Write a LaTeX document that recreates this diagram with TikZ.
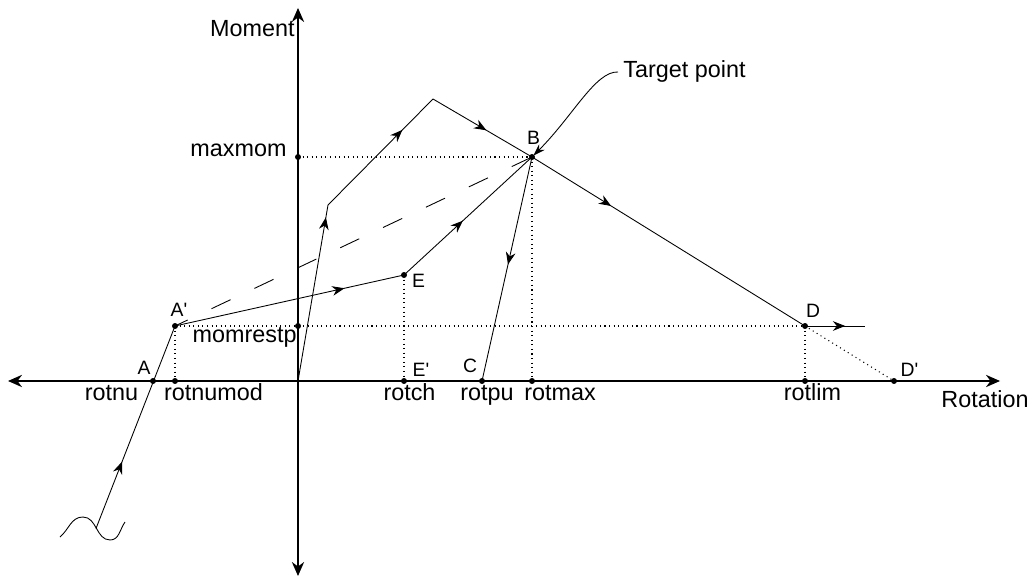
\documentclass[tikz,border=0pt]{standalone}
\usepackage{fontspec}
\setmainfont{Liberation Sans}
\usepackage{tikz}
\usetikzlibrary{arrows.meta,decorations.markings}

\begin{document}
\begin{tikzpicture}[line width=0.5pt,
  midarrow/.style={postaction={decorate},decoration={markings,mark=at position #1 with {\arrow{Stealth[length=7pt,width=5.5pt]}}}},
  axis/.style={{Stealth[length=8pt,width=7pt]}-{Stealth[length=8pt,width=7pt]},line width=0.8pt},
  guide/.style={dotted,line width=0.6pt},
  big/.style={inner sep=0pt,font=\fontsize{13.3}{15}\selectfont},
  small/.style={inner sep=0pt,font=\fontsize{11}{13}\selectfont}]
\useasboundingbox (-5.96,-4.02) rectangle (14.72,7.62);
\coordinate (xl) at (-5.8,0);
\coordinate (xr) at (14.04,0);
\coordinate (yt) at (0,7.46);
\coordinate (yb) at (0,-3.9);
\coordinate (O) at (0,0);
\coordinate (A) at (-2.9,0);
\coordinate (Ap) at (-2.46,1.1);
\coordinate (Ax) at (-2.46,0);
\coordinate (Ym) at (0,1.1);
\coordinate (E) at (2.12,2.12);
\coordinate (Ep) at (2.12,0);
\coordinate (C) at (3.68,0);
\coordinate (B) at (4.68,4.48);
\coordinate (Bx) at (4.68,0);
\coordinate (By) at (0,4.48);
\coordinate (D) at (10.14,1.1);
\coordinate (Dx) at (10.14,0);
\coordinate (Dp) at (11.92,0);
\coordinate (Dend) at (11.34,1.1);
\coordinate (K) at (0.6,3.52);
\coordinate (P) at (2.7,5.64);
\coordinate (W0) at (-4.04,-2.95);
\coordinate (W1) at (-4.76,-3.12);
\coordinate (W2) at (-4.3,-2.72);
\coordinate (W3) at (-3.76,-3.18);
\coordinate (W4) at (-3.46,-2.82);
\coordinate (T) at (6.4,6.18);

\draw[axis] (xl) -- (xr);
\draw[axis] (yb) -- (yt);

\draw[guide] (Ap) -- (D);
\draw[guide] (By) -- (B);
\draw[guide] (Ap) -- (Ax);
\draw[guide] (E) -- (Ep);
\draw[guide] (B) -- (Bx);
\draw[guide] (D) -- (Dx);
\draw[guide] (D) -- (Dp);
\draw[dash pattern=on 12pt off 15pt,dash phase=4pt] (Ap) -- (B);

\draw (W1) to[out=40,in=180] (W2) to[out=0,in=180] (W3) to[out=0,in=235] (W4);
\draw[midarrow=0.33] (W0) -- (Ap);
\draw[midarrow=0.74] (Ap) -- (E);
\draw[midarrow=0.46] (E) -- (B);
\draw[midarrow=0.48] (B) -- (C);
\draw[midarrow=0.93] (O) -- (K);
\draw[midarrow=0.71] (K) -- (P);
\draw[midarrow=0.54] (P) -- (B);
\draw[midarrow=0.29] (B) -- (D);
\draw[midarrow=0.67] (D) -- (Dend);

\foreach \p in {A,Ap,Ax,Ym,E,Ep,C,B,Bx,By,D,Dx,Dp}
  \fill (\p) circle (1.7pt);

\node[big,anchor=base east] (lmoment) at (-0.06,6.88) {Moment};
\node[big,anchor=base] (lrotation) at (13.74,-0.54) {Rotation};
\node[big,anchor=base east] (lmaxmom) at (-0.22,4.48) {maxmom};
\node[big,anchor=base east] (lmomrestp) at (-0.02,0.76) {momrestp};
\node[big,anchor=base] (lrotnu) at (-3.73,-0.4) {rotnu};
\node[big,anchor=base] (lrotnumod) at (-1.69,-0.4) {rotnumod};
\node[big,anchor=base] (lrotch) at (2.23,-0.4) {rotch};
\node[big,anchor=base] (lrotpu) at (3.78,-0.4) {rotpu};
\node[big,anchor=base] (lrotmax) at (5.24,-0.4) {rotmax};
\node[big,anchor=base] (lrotlim) at (10.29,-0.4) {rotlim};
\node[big,anchor=base west] (ltarget) at (6.5,6.06) {Target point};

\node[small,anchor=base] (lA) at (-3.08,0.12) {A};
\node[small,anchor=base] (lAp) at (-2.38,1.28) {A\textquotesingle};
\node[small,anchor=base] (lE) at (2.41,1.86) {E};
\node[small,anchor=base] (lEp) at (2.46,0.08) {E\textquotesingle};
\node[small,anchor=base] (lC) at (3.44,0.16) {C};
\node[small,anchor=base] (lB) at (4.71,4.72) {B};
\node[small,anchor=base] (lD) at (10.3,1.26) {D};
\node[small,anchor=base] (lDp) at (12.23,0.08) {D\textquotesingle};

\draw[-{Stealth[length=7pt,width=4.5pt]},shorten >=1pt] (T) .. controls (5.95,6.2) and (5.5,5.3) .. (B);
\end{tikzpicture}
\end{document}
